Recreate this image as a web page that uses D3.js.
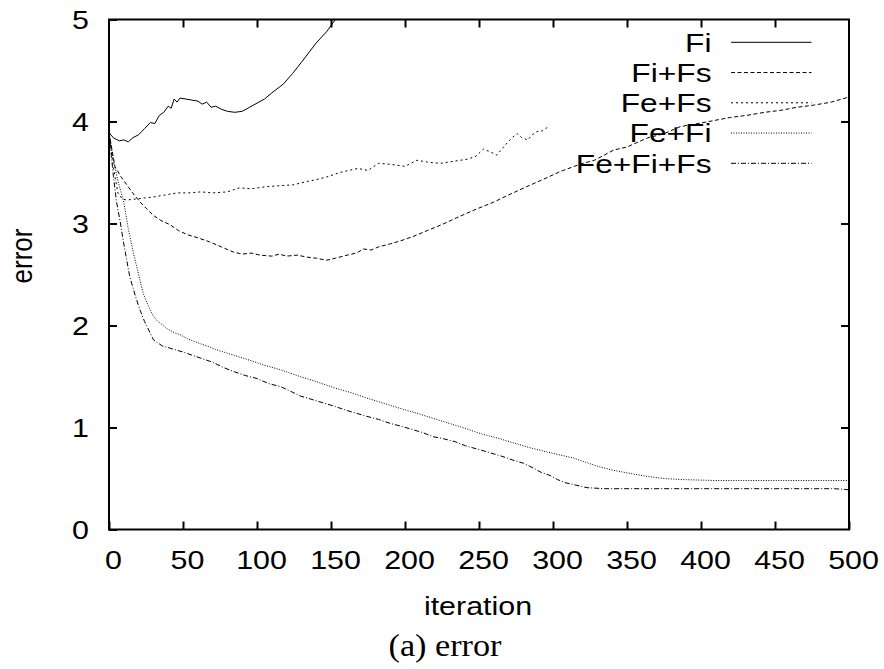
<!DOCTYPE html>
<html lang="en">
<head>
    <meta charset="UTF-8">
    <title>error</title>
    <script src="https://cdnjs.cloudflare.com/ajax/libs/d3/7.6.1/d3.min.js"></script>
    <style>
        body {
            margin: 0;
            background-color: #fff;
        }
        text {
            font-family: "Liberation Sans", Arial, sans-serif;
            fill: #000;
        }
    </style>
</head>
<body>
    <svg id="chart" width="884" height="669"></svg>
    <script>
        // series: [iteration, error]
        const fi = [[0,3.89],[3,3.84],[7,3.81],[10,3.82],[13,3.80],[16,3.84],[20,3.87],[24,3.93],[28,3.99],[31,3.98],[34,4.06],[37,4.09],[40,4.15],[42,4.13],[44,4.22],[46,4.19],[48,4.23],[52,4.22],[56,4.21],[60,4.20],[63,4.17],[66,4.19],[69,4.14],[72,4.15],[76,4.12],[80,4.10],[85,4.09],[90,4.10],[95,4.14],[100,4.18],[105,4.22],[110,4.28],[118,4.37],[124,4.47],[130,4.58],[140,4.77],[147,4.88],[153,5.0],[160,5.12]];
        const fiFs = [[0,3.89],[4,3.56],[8,3.46],[12,3.38],[16,3.30],[21,3.21],[25,3.15],[30,3.08],[35,3.03],[41,2.99],[47,2.93],[53,2.89],[60,2.86],[68,2.82],[76,2.77],[84,2.72],[90,2.70],[96,2.71],[102,2.69],[110,2.68],[115,2.70],[120,2.68],[127,2.69],[134,2.67],[140,2.66],[147,2.64],[153,2.66],[161,2.69],[167,2.71],[172,2.75],[177,2.74],[182,2.77],[190,2.80],[197,2.83],[205,2.87],[215,2.93],[225,2.99],[237,3.07],[248,3.14],[260,3.21],[270,3.28],[282,3.36],[293,3.43],[305,3.51],[318,3.58],[328,3.62],[341,3.72],[350,3.75],[364,3.84],[375,3.88],[386,3.95],[398,3.98],[409,4.01],[420,4.04],[431,4.06],[443,4.09],[454,4.11],[465,4.14],[476,4.16],[488,4.19],[500,4.24]];
        const feFs = [[0,3.89],[3,3.55],[6,3.30],[9,3.24],[12,3.23],[18,3.24],[24,3.25],[30,3.26],[38,3.28],[46,3.30],[54,3.30],[62,3.31],[70,3.30],[80,3.31],[88,3.35],[96,3.34],[106,3.36],[115,3.37],[125,3.38],[133,3.41],[140,3.43],[148,3.46],[156,3.50],[162,3.52],[168,3.54],[175,3.52],[182,3.59],[190,3.58],[200,3.56],[208,3.62],[216,3.60],[224,3.59],[233,3.61],[242,3.63],[248,3.66],[253,3.73],[258,3.70],[262,3.67],[266,3.74],[269,3.79],[273,3.85],[276,3.88],[279,3.84],[283,3.82],[286,3.87],[289,3.90],[293,3.91],[297,3.95]];
        const feFi = [[0,3.89],[3,3.62],[6,3.42],[10,3.21],[13,2.95],[16.5,2.71],[20,2.50],[23,2.32],[26,2.21],[28,2.15],[30,2.09],[33,2.04],[36.7,2.00],[39,1.97],[44,1.93],[48,1.91],[53,1.87],[60,1.83],[68,1.79],[73,1.76],[84,1.71],[95,1.66],[105,1.61],[115,1.57],[129,1.50],[140,1.45],[152,1.39],[164,1.34],[174,1.29],[185,1.24],[196,1.19],[208,1.14],[219,1.09],[230,1.04],[241,0.99],[251,0.94],[264,0.89],[273,0.85],[285,0.80],[296,0.76],[305,0.73],[314,0.70],[322,0.66],[330,0.62],[341,0.58],[352,0.55],[364,0.52],[375,0.50],[386,0.49],[398,0.485],[410,0.48],[450,0.48],[500,0.48]];
        const feFiFs = [[0,3.89],[3,3.46],[5,3.22],[7.4,3.03],[10,2.80],[14,2.48],[18,2.28],[21,2.15],[24,2.04],[27.7,1.93],[30,1.86],[32,1.84],[36,1.80],[43,1.77],[50,1.74],[56,1.71],[62,1.68],[70,1.64],[77,1.59],[84,1.55],[92,1.51],[100,1.48],[108,1.43],[116,1.40],[122,1.36],[129,1.31],[136,1.28],[145,1.24],[152,1.21],[160,1.17],[167,1.14],[174,1.11],[182,1.08],[190,1.04],[198,1.01],[205,0.98],[212,0.95],[219,0.91],[226,0.89],[234,0.86],[241,0.82],[251,0.78],[258,0.75],[265,0.72],[273,0.68],[280,0.65],[287,0.60],[292,0.56],[298,0.53],[303,0.49],[308,0.46],[314,0.44],[323,0.41],[335,0.40],[350,0.40],[380,0.40],[420,0.40],[460,0.40],[490,0.40],[500,0.39]];

        const seriesNames = ["Fi", "Fi+Fs", "Fe+Fs", "Fe+Fi", "Fe+Fi+Fs"];
        const seriesData = [fi, fiFs, feFs, feFi, feFiFs];
        const xTicks = [0, 50, 100, 150, 200, 250, 300, 350, 400, 450, 500];
        const yTicks = [0, 1, 2, 3, 4, 5];

        // line styles, one per series
        const dashes = [null, "4,2.5", "2,3", "1,1.5", "5,2,1,2"];

        // layout
        const plotLeft = 109, plotRight = 849, plotTop = 19.5, plotBottom = 529.5;
        const sx = 1.17;   // the original text is a bit wider than Liberation Sans

        const svg = d3.select("#chart");

        const x = d3.scaleLinear().domain([0, 500]).range([plotLeft, plotRight]);
        const y = d3.scaleLinear().domain([0, 5]).range([plotBottom, plotTop]);

        svg.append("defs").append("clipPath").attr("id", "plot")
            .append("rect")
            .attr("x", plotLeft).attr("y", plotTop)
            .attr("width", plotRight - plotLeft).attr("height", plotBottom - plotTop);

        // lines
        const line = d3.line().x(d => x(d[0])).y(d => y(d[1]));
        svg.append("g")
            .attr("clip-path", "url(#plot)")
            .selectAll("path")
            .data(seriesData)
            .join("path")
            .attr("fill", "none")
            .attr("stroke", "#000")
            .attr("stroke-width", 1)
            .attr("stroke-dasharray", (d, i) => dashes[i])
            .attr("d", line);

        // axes, ticks point inward on all four sides
        const styleAxis = g => {
            g.select(".domain").remove();
            g.selectAll(".tick line").attr("stroke", "#000").attr("stroke-width", 2);
        };

        svg.append("g")
            .attr("transform", `translate(0,${plotBottom})`)
            .call(d3.axisBottom(x).tickValues(xTicks).tickFormat(d3.format("d")).tickSizeInner(-8).tickSizeOuter(0))
            .call(styleAxis)
            .call(g => g.selectAll("text")
                .attr("y", null).attr("dy", null)
                .attr("font-size", 26)
                .attr("transform", `translate(4,39.5) scale(${sx},1)`));

        svg.append("g")
            .attr("transform", `translate(${plotLeft},0)`)
            .call(d3.axisLeft(y).tickValues(yTicks).tickFormat(d3.format("d")).tickSizeInner(-8).tickSizeOuter(0))
            .call(styleAxis)
            .call(g => g.selectAll("text")
                .attr("x", null).attr("dy", "0.36em")
                .attr("font-size", 26)
                .attr("transform", `translate(-20,0) scale(${sx},1)`));

        svg.append("g")
            .attr("transform", `translate(0,${plotTop})`)
            .call(d3.axisTop(x).tickValues(xTicks.slice(1, -1)).tickSizeInner(-8).tickSizeOuter(0).tickFormat(""))
            .call(styleAxis);

        svg.append("g")
            .attr("transform", `translate(${plotRight},0)`)
            .call(d3.axisRight(y).tickValues(yTicks.slice(1, -1)).tickSizeInner(-8).tickSizeOuter(0).tickFormat(""))
            .call(styleAxis);

        svg.append("rect")
            .attr("x", plotLeft).attr("y", plotTop)
            .attr("width", plotRight - plotLeft).attr("height", plotBottom - plotTop)
            .attr("fill", "none")
            .attr("stroke", "#000")
            .attr("stroke-width", 2);

        // axis titles
        svg.append("text")
            .attr("text-anchor", "middle")
            .attr("font-size", 26)
            .attr("transform", `translate(478,615) scale(${sx},1)`)
            .text("iteration");

        svg.append("text")
            .attr("text-anchor", "middle")
            .attr("font-size", 26)
            .attr("transform", `translate(32,256) rotate(-90) scale(1,${sx})`)
            .text("error");

        svg.append("text")
            .attr("text-anchor", "middle")
            .attr("font-size", 32)
            .style("font-family", "'Liberation Serif', serif")
            .attr("transform", "translate(445,656) scale(1.07,1)")
            .text("(a) error");

        // legend
        const legend = svg.append("g");
        seriesNames.forEach((name, i) => {
            const ly = 42.3 + i * 30.25;
            legend.append("text")
                .attr("text-anchor", "end")
                .attr("dy", "0.36em")
                .attr("font-size", 26)
                .attr("transform", `translate(711.5,${ly}) scale(1.22,1)`)
                .text(name);
            legend.append("line")
                .attr("x1", 731).attr("x2", 811.5)
                .attr("y1", ly).attr("y2", ly)
                .attr("stroke", "#000")
                .attr("stroke-width", 1)
                .attr("stroke-dasharray", dashes[i]);
        });
    </script>
</body>
</html>
